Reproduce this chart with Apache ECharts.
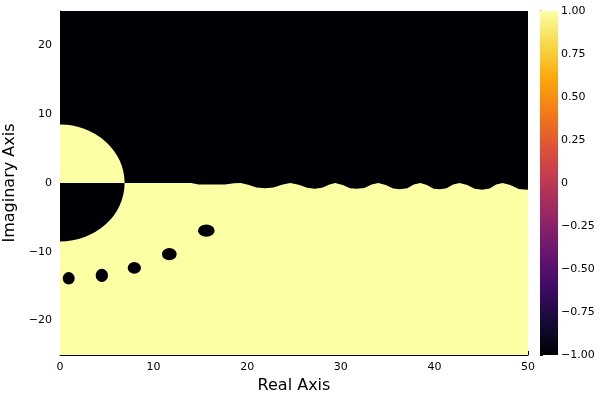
<!DOCTYPE html>
<html>
<head>
<meta charset="utf-8">
<script src="https://cdn.jsdelivr.net/npm/echarts@6/dist/echarts.min.js"></script>
<style>
  html, body { margin: 0; padding: 0; background: #fff; }
  #chart { width: 600px; height: 400px; }
</style>
</head>
<body>
<div id="chart"></div>
<script>
  // axis ranges
  const realRange = [0, 50];
  const imagRange = [-25, 25];
  const colorRange = [-1, 1];

  // boundary between the black (-1) upper field and the yellow (+1) lower field
  const edgeX = [0, 14.0, 14.8, 17.6, 18.6, 19.3, 20.1, 21.0, 21.9, 22.8, 23.8, 24.6, 25.5, 26.4, 27.2, 28.0, 28.8,
    29.4, 30.2, 31.0, 31.7, 32.5, 33.3, 34.0, 34.8, 35.6, 36.3, 37.1, 37.8, 38.5, 39.2, 39.9, 40.6, 41.3, 42.0,
    42.7, 43.5, 44.3, 45.1, 45.9, 46.6, 47.3, 48.1, 49.0, 49.9, 50];
  const edgeY = [0, 0, -0.2, -0.2, -0.05, 0, -0.25, -0.65, -0.78, -0.65, -0.2, 0, -0.25, -0.7, -0.82, -0.7, -0.2,
    0, -0.3, -0.75, -0.85, -0.72, -0.2, 0, -0.3, -0.8, -0.9, -0.75, -0.2, 0, -0.3, -0.82, -0.92, -0.78, -0.2,
    0, -0.3, -0.85, -0.97, -0.8, -0.2, 0, -0.3, -0.88, -0.97, -0.95];

  // half-ellipse lobe at the origin: top half +1, bottom half -1
  const lobeRx = 6.9;
  const lobeRy = 8.5;
  const lobeValues = [1, -1];

  // small black islands inside the yellow field
  const holeX = [0.93, 4.47, 7.94, 11.68, 15.63];
  const holeY = [-13.85, -13.43, -12.34, -10.34, -6.93];
  const holeRx = [0.64, 0.66, 0.71, 0.78, 0.89];
  const holeRy = [0.9, 0.97, 0.85, 0.9, 0.9];

  // colour bar
  const colorTicks = [1, 0.75, 0.5, 0.25, 0, -0.25, -0.5, -0.75, -1];
  const inferno = ['#000004', '#160b39', '#420a68', '#6a176e', '#932667', '#bc3754',
    '#dd513a', '#f37819', '#fca50a', '#f6d746', '#fcffa4'];

  const font = 'DejaVu Sans';

  function fieldColor(v) {
    const t = (v - colorRange[0]) / (colorRange[1] - colorRange[0]);
    return inferno[Math.round(t * (inferno.length - 1))];
  }

  function minusSign(s) {
    return String(s).replace('-', '\u2212');
  }

  const chart = echarts.init(document.getElementById('chart'));

  const option = {
    animation: false,
    backgroundColor: '#fff',
    grid: [
      { left: 60, top: 11, width: 468, height: 344, containLabel: false, outerBoundsMode: 'none' },
      { left: 540, top: 11, width: 18, height: 344, containLabel: false, outerBoundsMode: 'none' }
    ],
    xAxis: [
      {
        type: 'value', gridIndex: 0, min: realRange[0], max: realRange[1], interval: 10,
        name: 'Real Axis', nameLocation: 'middle', nameGap: 23,
        nameTextStyle: { fontSize: 16, color: '#000', fontFamily: font },
        axisLine: { show: true, onZero: false, lineStyle: { color: '#000', width: 1 } },
        axisTick: { show: true, inside: true, length: 4, lineStyle: { color: '#000' } },
        axisLabel: { color: '#000', fontSize: 11, margin: 7, fontFamily: font },
        splitLine: { show: false }
      },
      {
        type: 'value', gridIndex: 1, min: 0, max: 1, show: false
      }
    ],
    yAxis: [
      {
        type: 'value', gridIndex: 0, min: imagRange[0], max: imagRange[1], splitNumber: 5,
        name: 'Imaginary Axis', nameLocation: 'middle', nameGap: 39,
        nameTextStyle: { fontSize: 16, color: '#000', fontFamily: font },
        axisLine: { show: true, onZero: false, lineStyle: { color: '#000', width: 1 } },
        axisTick: { show: true, inside: true, length: 4, lineStyle: { color: '#000' } },
        axisLabel: {
          color: '#000', fontSize: 11, margin: 8, fontFamily: font,
          showMinLabel: false, showMaxLabel: false,
          formatter: function (v) { return v % 10 === 0 ? minusSign(v) : ''; }
        },
        splitLine: { show: false }
      },
      {
        type: 'value', gridIndex: 1, position: 'right',
        min: colorRange[0], max: colorRange[1], interval: 0.25,
        axisLine: { show: true, lineStyle: { color: '#000', width: 1 } },
        axisTick: { show: true, inside: false, length: 3, lineStyle: { color: '#000' } },
        axisLabel: {
          color: '#000', fontSize: 11, margin: 3, fontFamily: font,
          formatter: function (v) {
            if (colorTicks.indexOf(v) < 0) return '';
            return v === 0 ? '0' : minusSign(v.toFixed(2));
          }
        },
        splitLine: { show: false }
      }
    ],
    series: [
      {
        // yellow field, lower part
        type: 'custom', name: 'lower', clip: true, silent: true,
        data: [[realRange[0], imagRange[0]]],
        renderItem: function (params, api) {
          const a = api.coord([realRange[0], imagRange[0]]);
          const b = api.coord([realRange[1], imagRange[1]]);
          return {
            type: 'rect',
            shape: { x: a[0], y: b[1], width: b[0] - a[0], height: a[1] - b[1] },
            style: { fill: fieldColor(1) }
          };
        }
      },
      {
        // black field above the wavy edge
        type: 'custom', name: 'upper', clip: true, silent: true,
        data: [[realRange[0], imagRange[1]]],
        renderItem: function (params, api) {
          const pts = edgeX.map(function (x, i) { return api.coord([x, edgeY[i]]); });
          pts.push(api.coord([edgeX[edgeX.length - 1], imagRange[1]]));
          pts.push(api.coord([edgeX[0], imagRange[1]]));
          return { type: 'polygon', shape: { points: pts }, style: { fill: fieldColor(-1) } };
        }
      },
      {
        // lobe at the origin
        type: 'custom', name: 'lobe', clip: true, silent: true,
        data: lobeValues.map(function (v) { return [0, 0, v]; }),
        renderItem: function (params, api) {
          const c = api.coord([api.value(0), api.value(1)]);
          const rx = api.size([lobeRx, 0])[0];
          const ry = api.size([0, lobeRy])[1];
          const v = api.value(2);
          const sweep = v > 0 ? 1 : 0;
          const d = 'M ' + (c[0] - rx) + ' ' + c[1] + ' A ' + rx + ' ' + ry + ' 0 0 ' + sweep + ' ' +
            (c[0] + rx) + ' ' + c[1] + ' Z';
          return { type: 'path', shape: { pathData: d }, style: { fill: fieldColor(v) } };
        }
      },
      {
        // black islands
        type: 'custom', name: 'holes', clip: true, silent: true,
        data: holeX.map(function (x, i) { return [x, holeY[i], holeRx[i], holeRy[i]]; }),
        renderItem: function (params, api) {
          const c = api.coord([api.value(0), api.value(1)]);
          const rx = api.size([api.value(2), 0])[0];
          const ry = api.size([0, api.value(3)])[1];
          const d = 'M ' + (c[0] - rx) + ' ' + c[1] +
            ' A ' + rx + ' ' + ry + ' 0 1 1 ' + (c[0] + rx) + ' ' + c[1] +
            ' A ' + rx + ' ' + ry + ' 0 1 1 ' + (c[0] - rx) + ' ' + c[1] + ' Z';
          return { type: 'path', shape: { pathData: d }, style: { fill: fieldColor(-1) } };
        }
      },
      {
        // colour bar
        type: 'custom', name: 'colorbar', xAxisIndex: 1, yAxisIndex: 1, silent: true,
        data: [[0, colorRange[0]]],
        renderItem: function (params, api) {
          const a = api.coord([0, colorRange[0]]);
          const b = api.coord([1, colorRange[1]]);
          const stops = inferno.map(function (c, i) { return { offset: i / (inferno.length - 1), color: c }; });
          return {
            type: 'rect',
            shape: { x: a[0], y: b[1], width: b[0] - a[0], height: a[1] - b[1] },
            style: { fill: new echarts.graphic.LinearGradient(0, 1, 0, 0, stops) }
          };
        }
      }
    ]
  };

  chart.setOption(option);
</script>
</body>
</html>
